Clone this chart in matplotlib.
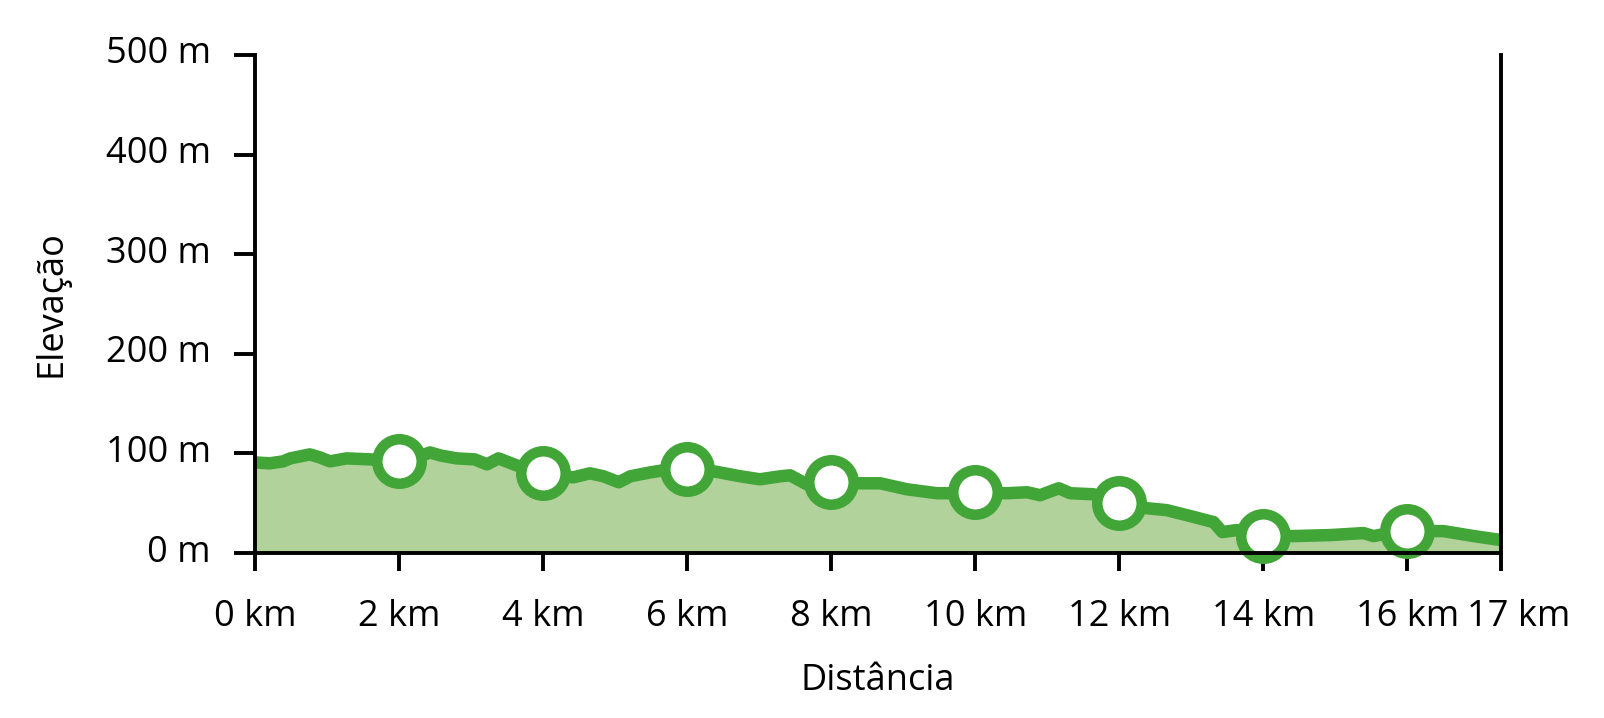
import numpy as np
import matplotlib
matplotlib.use("Agg")
import matplotlib.pyplot as plt
import matplotlib.transforms as mtransforms

plt.rcParams['font.family'] = ['Open Sans', 'DejaVu Sans']

# elevation profile (km, m)
dist_km = [0, 0.2, 0.39, 0.49, 0.76, 0.9, 1.04, 1.27, 1.6, 2.0, 2.25, 2.43,
           2.57, 2.8, 3.05, 3.22, 3.38, 3.63, 4.0, 4.2, 4.42, 4.65, 4.84,
           5.05, 5.21, 5.49, 5.75, 6.0, 6.37, 6.74, 7.01, 7.29, 7.43, 7.66,
           8.0, 8.4, 8.68, 9.05, 9.47, 9.75, 10.0, 10.44, 10.72, 10.9, 11.16,
           11.32, 11.64, 12.0, 12.38, 12.66, 12.99, 13.31, 13.43, 13.63, 14.0,
           14.42, 14.93, 15.39, 15.53, 15.75, 16.02, 16.5, 16.92, 17.3]
elev_m = [91, 90, 92, 95, 99, 96, 92, 95, 94, 92, 96, 101,
          98, 95, 94, 89, 95, 88, 80, 77, 76, 80, 77,
          71, 77, 81, 84, 84, 82, 77, 74, 77, 78, 69,
          71, 70, 70, 64, 60, 60, 61, 60, 61, 58, 65,
          60, 59, 50, 45, 43, 37, 31, 21, 23, 17,
          17, 18, 20, 17, 20, 22, 22, 17, 13]

marker_km = [2, 4, 6, 8, 10, 12, 14, 16]
xtick_km = [0, 2, 4, 6, 8, 10, 12, 14, 16]
ytick_m = [0, 100, 200, 300, 400, 500]
total_km = 17.3
total_label = "17 km"

line_c = "#41a637"
fill_c = "#b1d29b"
fs = 26

fig = plt.figure(figsize=(16.04, 7.18), dpi=100)
ax = fig.add_axes([0.159, 0.2298, 0.9358 - 0.159, 0.9234 - 0.2298])

ax.fill_between(dist_km, elev_m, 0, color=fill_c, lw=0, zorder=1)
ax.plot(dist_km, elev_m, color=line_c, lw=9, solid_joinstyle='round',
        solid_capstyle='butt', zorder=2)
mk_y = np.interp(marker_km, dist_km, elev_m)
ax.plot(marker_km, mk_y, 'o', ms=32, mfc='white', mec=line_c, mew=7.6,
        zorder=3, clip_on=False)

ax.set_xlim(0, total_km)
ax.set_ylim(0, 500)
ax.spines['top'].set_visible(False)
for s in ('left', 'bottom', 'right'):
    ax.spines[s].set_linewidth(2.8)
    ax.spines[s].set_color('black')
    ax.spines[s].set_zorder(4)

ax.set_xticks(xtick_km + [total_km])
ax.set_xticklabels([f"{k} km" for k in xtick_km] + [total_label])
ax.set_yticks(ytick_m)
ax.set_yticklabels([f"{m} m" for m in ytick_m])
ax.tick_params(axis='x', length=13, width=2.8, pad=20, labelsize=fs)
ax.tick_params(axis='y', length=15, width=2.8, pad=17, labelsize=fs)
for lab in ax.get_yticklabels():
    lab.set_transform(lab.get_transform() + mtransforms.ScaledTranslation(0, 0.05, fig.dpi_scale_trans))
last = ax.get_xticklabels()[-1]
last.set_transform(last.get_transform() + mtransforms.ScaledTranslation(0.18, 0, fig.dpi_scale_trans))

ax.set_xlabel("Distância", fontsize=fs, labelpad=20)
ax.set_ylabel("Elevação", fontsize=fs, labelpad=26)

fig.savefig("out.png", dpi=100)
